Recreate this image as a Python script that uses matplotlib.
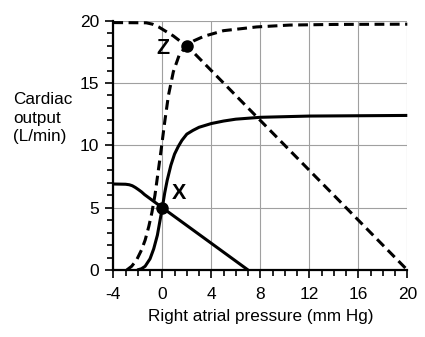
import matplotlib.pyplot as plt
from matplotlib.ticker import MultipleLocator

plt.rcParams["font.family"] = ["Liberation Sans", "DejaVu Sans"]
plt.rcParams["axes.unicode_minus"] = False

# normal cardiac function curve (solid)
cf_x = [-2.05, -1.7, -1.4, -1.0, -0.7, -0.4, -0.2, 0.0, 0.2, 0.4, 0.7, 1.0,
        1.3, 1.6, 2.0, 2.5, 3.0, 4.0, 5.0, 6.0, 8.0, 12.0, 20.0]
cf_y = [0.0, 0.1, 0.3, 0.9, 1.7, 2.8, 3.9, 5.0, 6.2, 7.2, 8.4, 9.3,
        9.9, 10.4, 10.9, 11.2, 11.45, 11.75, 11.95, 12.1, 12.25, 12.35, 12.4]

# normal venous return curve (solid)
vr_x = [-4.0, -3.0, -2.7, -2.45, -2.2, -1.95, -1.7, -1.45, 0.0, 7.0]
vr_y = [6.9, 6.88, 6.84, 6.76, 6.62, 6.45, 6.27, 6.05, 5.0, 0.0]

# exercise cardiac function curve (dashed)
cf2_x = [-2.9, -2.5, -2.1, -1.7, -1.4, -1.1, -0.85, -0.6, -0.35, -0.1, 0.2,
         0.5, 0.9, 1.4, 2.0, 2.6, 3.4, 5.0, 7.7, 10.4, 14.0, 20.0]
cf2_y = [0.0, 0.3, 0.8, 1.6, 2.4, 3.5, 4.6, 6.0, 7.8, 9.6, 11.9,
         14.0, 15.9, 17.3, 18.0, 18.4, 18.75, 19.2, 19.5, 19.65, 19.7, 19.72]

# exercise venous return curve (dashed)
vr2_x = [-4.0, -1.3, -0.8, -0.3, 0.2, 0.9, 1.4, 2.0, 2.6, 3.0, 20.0]
vr2_y = [19.85, 19.83, 19.72, 19.5, 19.2, 18.78, 18.4, 18.0, 17.4, 17.0, 0.0]

# equilibrium points
pt_x = [0.0, 2.0]
pt_y = [5.0, 18.0]
pt_labels = ["X", "Z"]
label_x = [1.36, 0.08]
label_y = [6.15, 17.8]

fig = plt.figure(figsize=(4.25, 3.37), dpi=100)
ax = fig.add_axes([113.3 / 425, 1 - 270 / 337, 294 / 425, 249.3 / 337])

ax.set_xlim(-4, 20)
ax.set_ylim(0, 20)
ax.xaxis.set_major_locator(MultipleLocator(4))
ax.xaxis.set_minor_locator(MultipleLocator(1))
ax.yaxis.set_major_locator(MultipleLocator(5))
ax.yaxis.set_minor_locator(MultipleLocator(1))
ax.grid(True, which="major", color="#a0a0a0", lw=0.8, zorder=0)
ax.set_axisbelow(True)

for s in ["top", "right"]:
    ax.spines[s].set_visible(False)
for s in ["left", "bottom"]:
    ax.spines[s].set_linewidth(1.6)

ax.tick_params(which="major", direction="out", length=6, width=1.2, labelsize=12.5, pad=4)
ax.tick_params(axis="x", which="major", pad=6)
ax.tick_params(which="minor", direction="out", length=4, width=1.2)

dash = (3.2, 1.8)
ax.plot(cf_x, cf_y, color="black", lw=2.2, solid_capstyle="butt", clip_on=False)
ax.plot(vr_x, vr_y, color="black", lw=2.2, solid_capstyle="butt", clip_on=False)
ax.plot(cf2_x, cf2_y, color="black", lw=2.2, dashes=dash, clip_on=False)
ax.plot(vr2_x, vr2_y, color="black", lw=2.2, dashes=dash, clip_on=False)

ax.plot(pt_x, pt_y, "o", color="black", ms=8, zorder=5, clip_on=False)
for lx, ly, t in zip(label_x, label_y, pt_labels):
    ax.text(lx, ly, t, fontsize=15.5, fontweight="bold", ha="center", va="center")

ax.set_xlabel("Right atrial pressure (mm Hg)", fontsize=12.3, labelpad=5)
fig.text(13 / 425, 1 - 118 / 337, "Cardiac\noutput\n(L/min)", fontsize=12.3,
         ha="left", va="center", linespacing=1.3)

fig.savefig("out.png", dpi=100)
